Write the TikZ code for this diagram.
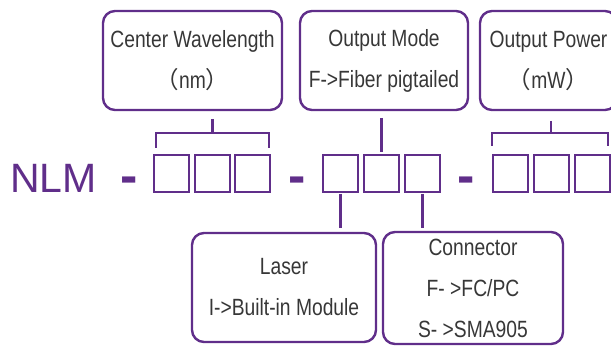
\documentclass[tikz,border=0pt]{standalone}
\usepackage{fontspec}
\setmainfont{Liberation Sans}
\newfontfamily\narrowfont[FakeStretch=0.82]{Liberation Sans}
\newfontfamily\cjkfont{Noto Sans CJK SC}
\usetikzlibrary{calc}
\definecolor{lpurple}{RGB}{96,46,138}
\definecolor{ltext}{RGB}{55,55,55}
\begin{document}
\begin{tikzpicture}[x=1pt,y=-1pt,
  infobox/.style={draw=lpurple, line width=2.4pt, rounded corners=12pt, inner sep=0pt, outer sep=0pt,
    align=center, text=ltext, font=\narrowfont\fontsize{23.5}{41}\selectfont},
  cell/.style={draw=lpurple, line width=2pt, minimum width=35pt, minimum height=37pt, inner sep=0pt, outer sep=0pt},
  link/.style={draw=lpurple, line width=2.2pt},
  bigtext/.style={text=lpurple, font=\fontsize{41}{41}\selectfont, inner sep=0pt, anchor=base},
  dashmark/.style={text=lpurple, font=\bfseries\fontsize{52}{52}\selectfont, inner sep=0pt, anchor=base}
]
\useasboundingbox (0,0) rectangle (611,347);
\clip (0,0) rectangle (611,347);
% upper boxes
\node[infobox, minimum width=179pt, minimum height=99pt] (cw) at (192.5,60.5)
  {Center Wavelength\\{\cjkfont （}nm{\cjkfont ）}};
\node[infobox, minimum width=168pt, minimum height=99pt] (om) at (384,60.5)
  {Output Mode\\F->Fiber pigtailed};
\node[infobox, minimum width=137pt, minimum height=99pt] (op) at (548.5,60.5)
  {Output Power\\{\cjkfont （}mW{\cjkfont ）}};
% lower boxes
\node[infobox, minimum width=184pt, minimum height=109pt] (laser) at (284,287.5)
  {Laser\\I->Built-in Module};
\node[infobox, minimum width=180pt, minimum height=112pt] (conn) at (473,288)
  {Connector\\F- >FC/PC\\S- >SMA905};
% code line
\node[bigtext, anchor=base west] (nlm) at (10,193) {NLM};
\node[dashmark] (d1) at (129,194) {-};
\node[dashmark] (d2) at (297,194) {-};
\node[dashmark] (d3) at (466,194) {-};
\node[cell] (s1) at (171.5,173.5) {};
\node[cell] (s2) at (212.5,173.5) {};
\node[cell] (s3) at (252.5,173.5) {};
\node[cell] (s4) at (340.5,173.5) {};
\node[cell] (s5) at (381.5,173.5) {};
\node[cell] (s6) at (422.5,173.5) {};
\node[cell] (s7) at (510.5,173.5) {};
\node[cell] (s8) at (551,173.5) {};
\node[cell] (s9) at (592.5,173.5) {};
% connectors
\draw[link] ($(s2.north |- cw.south)+(0,9)$) -- ($(s2.north)+(0,-22)$);
\draw[link] ($(s1.north west)+(2,-7)$) -- ++(0,-15) -| ($(s3.north east)+(-1,-7)$);
\draw[link] ($(s5.north |- om.south)+(0,8)$) -- ($(s5.north)+(0,-3)$);
\draw[link] ($(s8.north |- op.south)+(0,11)$) -- ($(s8.north)+(0,-22)$);
\draw[link] ($(s7.north west)+(-1,-9)$) -- ++(0,-13) -| ($(s9.north east)+(-2,-9)$);
\draw[link] ($(s4.south)+(0,2)$) -- ($(s4.south |- laser.north)+(0,-5)$);
\draw[link] ($(s6.south)+(0,2)$) -- ($(s6.south |- conn.north)+(0,-4)$);
\end{tikzpicture}
\end{document}
